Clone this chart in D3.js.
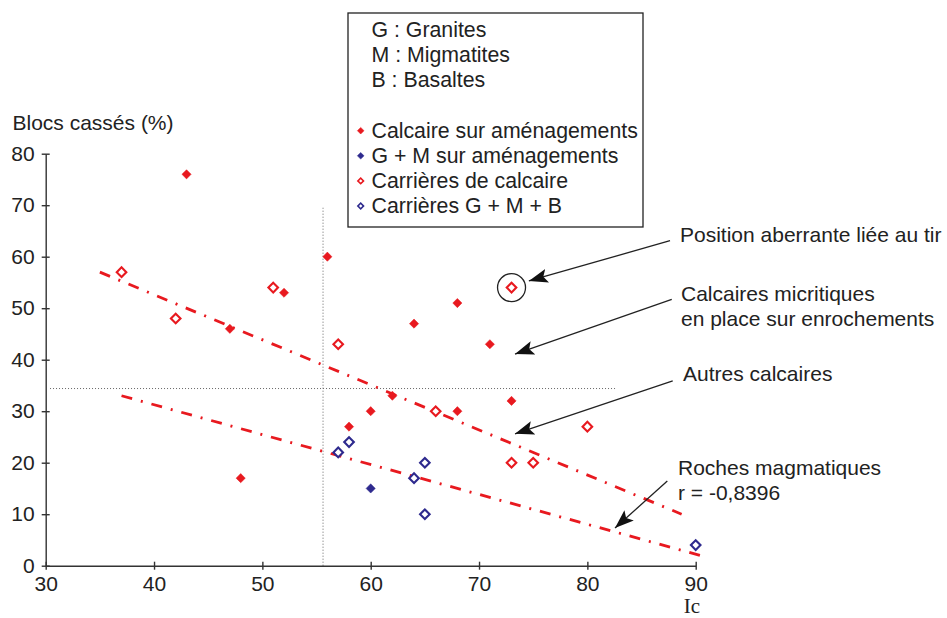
<!DOCTYPE html>
<html>
<head>
<meta charset="utf-8">
<script src="https://cdn.jsdelivr.net/npm/d3@7"></script>
<style>
  body { margin: 0; background: #fff; }
  svg { display: block; font-family: "Liberation Sans", Arial, Helvetica, sans-serif; }
</style>
</head>
<body>
<div id="chart"></div>
<script>
// Series values: [Ic, blocs cassés %]
const calcaireAmenagements = [
    [43, 76], [56, 60], [52, 53], [47, 46], [64, 47], [68, 51], [71, 43],
    [62, 33], [60, 30], [68, 30], [58, 27], [73, 32], [48, 17]
];
const gmAmenagements = [[60, 15]];
const carrieresCalcaire = [
    [37, 57], [42, 48], [51, 54], [57, 43], [73, 54], [66, 30], [80, 27], [73, 20], [75, 20]
];
const carrieresGMB = [[57, 22], [58, 24], [64, 17], [65, 20], [65, 10], [90, 4]];

// Regression lines (end points)
const trendCalcaire = [[35, 57], [88.7, 10]];
const trendMagmatique = [[37, 33], [90.4, 2]];

// Dotted reference lines
const refVertical = [[55.6, 0], [55.6, 69.5]];
const refHorizontal = [[30.4, 34.4], [82.6, 34.4]];

const xTicks = [30, 40, 50, 60, 70, 80, 90];
const yTicks = [0, 10, 20, 30, 40, 50, 60, 70, 80];

const legendNotes = ["G : Granites", "M : Migmatites", "B : Basaltes"];
const legendSeries = [
    { label: "Calcaire sur aménagements", color: "red", filled: true },
    { label: "G + M sur aménagements", color: "blue", filled: true },
    { label: "Carrières de calcaire", color: "red", filled: false },
    { label: "Carrières G + M + B", color: "blue", filled: false }
];

// Arrows: [from, to] in data units
const arrows = [
    [[87.63, 63.1], [74.6, 55.3]],
    [[87.79, 51.7], [73.32, 41.1]],
    [[87.88, 35.9], [73.32, 25.6]],
    [[87.38, 16.45], [82.55, 7.3]]
];
const outlier = [73, 54];

const colors = { red: "#e8191f", blue: "#2e2a8e" };
const W = 947, H = 618;

const x = d3.scaleLinear().domain([30, 90]).range([45.7, 695.7]);
const y = d3.scaleLinear().domain([0, 80]).range([565.7, 153.7]);

const svg = d3.select("#chart").append("svg")
    .attr("width", W)
    .attr("height", H)
    .attr("viewBox", `0 0 ${W} ${H}`);

svg.append("defs").append("marker")
    .attr("id", "arrow")
    .attr("viewBox", "0 0 19 14")
    .attr("refX", 19)
    .attr("refY", 7)
    .attr("markerWidth", 19)
    .attr("markerHeight", 14)
    .attr("markerUnits", "userSpaceOnUse")
    .attr("orient", "auto")
    .append("path")
    .attr("d", "M0,0 L19,7 L0,14 L4,7 Z")
    .attr("fill", "#111");

// Dotted reference lines
const line = d3.line().x(d => x(d[0])).y(d => y(d[1]));
[refVertical, refHorizontal].forEach(ref => {
    svg.append("path")
        .attr("d", line(ref))
        .attr("fill", "none")
        .attr("stroke", "#666")
        .attr("stroke-width", 1)
        .attr("stroke-dasharray", "1,2");
});

// Axes
const yAxis = svg.append("g")
    .attr("class", "axis")
    .attr("transform", `translate(${x(30)},0)`)
    .call(d3.axisLeft(y).tickValues(yTicks).tickSizeInner(4).tickSizeOuter(0).tickPadding(7));
yAxis.selectAll(".tick line").attr("x1", 4);

const xAxis = svg.append("g")
    .attr("class", "axis")
    .attr("transform", `translate(0,${y(0)})`)
    .call(d3.axisBottom(x).tickValues(xTicks).tickSizeInner(4).tickSizeOuter(0).tickPadding(6));
xAxis.selectAll(".tick line").attr("y1", -4);

svg.selectAll(".axis path, .axis line")
    .attr("stroke", "#333")
    .attr("stroke-width", 1.4);
svg.selectAll(".axis text")
    .attr("font-family", "'Liberation Sans', Arial, sans-serif")
    .attr("font-size", 21)
    .attr("fill", "#222");

// Trend lines
[trendCalcaire, trendMagmatique].forEach(t => {
    svg.append("path")
        .attr("d", line(t))
        .attr("fill", "none")
        .attr("stroke", colors.red)
        .attr("stroke-width", 2.8)
        .attr("stroke-dasharray", "11,9,2,9");
});

// Points
const diamond = size => d3.symbol(d3.symbolSquare, size);
function drawPoints(data, color, filled) {
    svg.append("g").selectAll("path")
        .data(data)
        .enter().append("path")
        .attr("d", diamond(filled ? 42 : 46)())
        .attr("transform", d => `translate(${x(d[0])},${y(d[1])}) rotate(45)`)
        .attr("fill", filled ? colors[color] : "#fff")
        .attr("stroke", colors[color])
        .attr("stroke-width", filled ? 0.5 : 2.1);
}
drawPoints(calcaireAmenagements, "red", true);
drawPoints(gmAmenagements, "blue", true);
drawPoints(carrieresCalcaire, "red", false);
drawPoints(carrieresGMB, "blue", false);

// Circle around outlier
svg.append("circle")
    .attr("cx", x(outlier[0]))
    .attr("cy", y(outlier[1]))
    .attr("r", 14)
    .attr("fill", "none")
    .attr("stroke", "#222")
    .attr("stroke-width", 1.3);

// Arrows
svg.append("g").selectAll("path")
    .data(arrows)
    .enter().append("path")
    .attr("d", d => line(d))
    .attr("stroke", "#222")
    .attr("stroke-width", 1.3)
    .attr("fill", "none")
    .attr("marker-end", "url(#arrow)");

// Axis titles
svg.append("text")
    .attr("x", 12.5)
    .attr("y", 130)
    .attr("font-size", 21)
    .attr("fill", "#222")
    .text("Blocs cassés (%)");

svg.append("text")
    .attr("x", 692)
    .attr("y", 613)
    .attr("text-anchor", "middle")
    .attr("font-family", "'Liberation Serif', 'Times New Roman', serif")
    .attr("font-size", 21)
    .attr("fill", "#222")
    .text("Ic");

// Legend
const legend = svg.append("g");
legend.append("rect")
    .attr("x", 348)
    .attr("y", 13)
    .attr("width", 295)
    .attr("height", 214)
    .attr("fill", "#fff")
    .attr("stroke", "#222")
    .attr("stroke-width", 1.3);

legendNotes.forEach((t, i) => {
    legend.append("text")
        .attr("x", 371.5)
        .attr("y", 36.7 + i * 25.2)
        .attr("font-size", 21.3)
        .attr("fill", "#222")
        .text(t);
});

legendSeries.forEach((s, i) => {
    const ly = 137.7 + i * 25.1;
    legend.append("path")
        .attr("d", diamond(s.filled ? 22 : 16)())
        .attr("transform", `translate(360.7,${ly - 7}) rotate(45)`)
        .attr("fill", s.filled ? colors[s.color] : "#fff")
        .attr("stroke", colors[s.color])
        .attr("stroke-width", s.filled ? 0.5 : 1.6);
    legend.append("text")
        .attr("x", 371.5)
        .attr("y", ly)
        .attr("font-size", 21.3)
        .attr("fill", "#222")
        .text(s.label);
});

// Annotation texts
const notes = [
    { x: 680, y: 242, t: "Position aberrante liée au tir" },
    { x: 681, y: 301, t: "Calcaires micritiques" },
    { x: 681, y: 326, t: "en place sur enrochements" },
    { x: 683, y: 381, t: "Autres calcaires" },
    { x: 678, y: 475, t: "Roches magmatiques" },
    { x: 678, y: 500, t: "r = -0,8396" }
];
svg.append("g").selectAll("text")
    .data(notes)
    .enter().append("text")
    .attr("x", d => d.x)
    .attr("y", d => d.y)
    .attr("font-size", 21)
    .attr("fill", "#222")
    .text(d => d.t);
</script>
</body>
</html>
